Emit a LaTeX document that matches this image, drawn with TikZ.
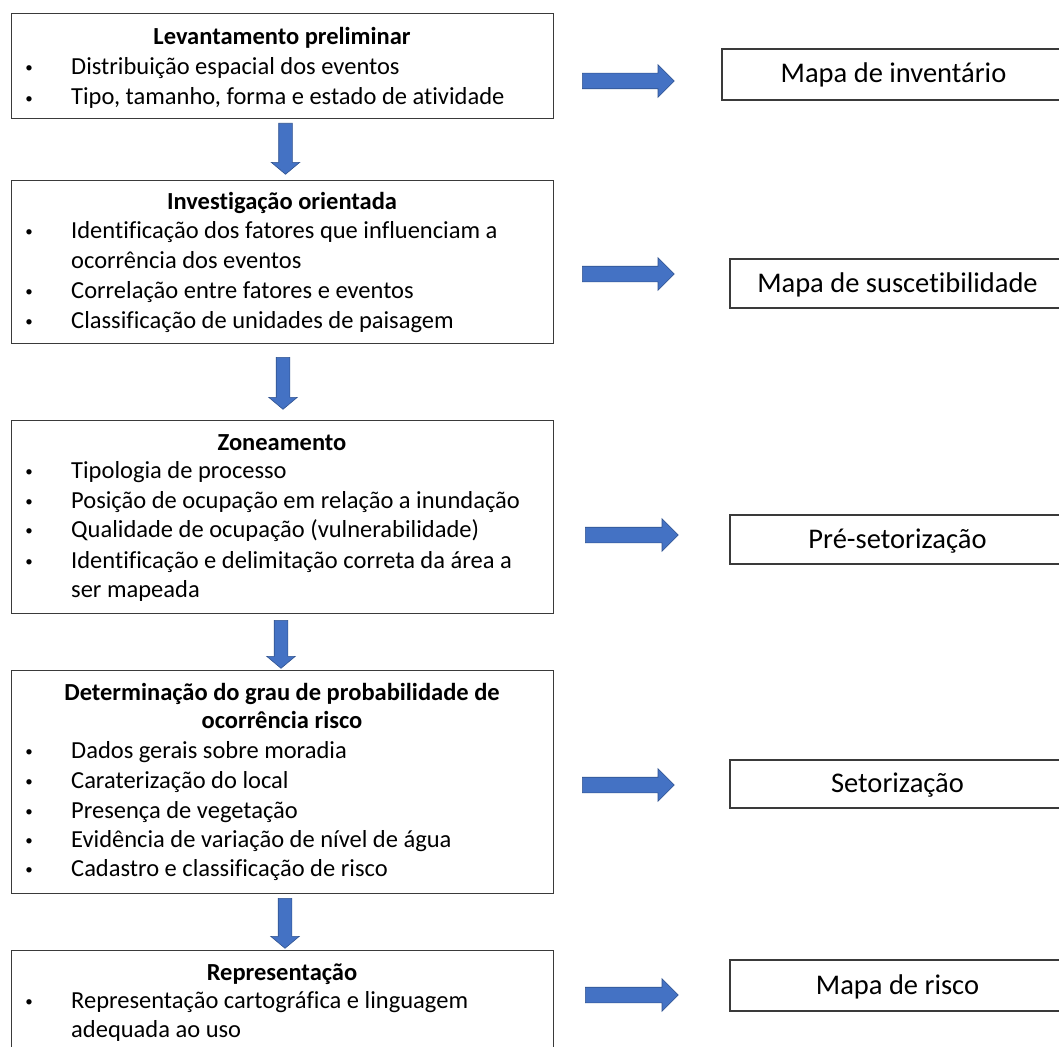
\documentclass[tikz,border=0pt]{standalone}
\usepackage{fontspec}
\setmainfont{Carlito}[Ligatures=NoCommon]
\usetikzlibrary{shapes.arrows}
\definecolor{arrfill}{HTML}{4472C4}
\definecolor{arrline}{HTML}{2F528F}
\definecolor{boxline}{HTML}{3A3A3A}
\newcommand\ttlfont{\bfseries\fontsize{24.5}{29}\selectfont}
\newcommand\itmfont{\fontsize{24.5}{29}\selectfont}
\newcommand\bulfont{\fontsize{15}{15}\selectfont}
\newcommand\outfont{\fontsize{28.5}{32}\selectfont}
\tikzset{
  stagebox/.style={draw=boxline, line width=1.3pt, anchor=north west, inner sep=0pt},
  outbox/.style={draw=boxline, line width=1.3pt, inner sep=0pt, font=\outfont, text height=19pt, text depth=2pt},
  ttl/.style={anchor=base, inner sep=0pt, font=\ttlfont},
  itm/.style={anchor=base west, inner sep=0pt, font=\itmfont},
  bul/.style={anchor=base, inner sep=0pt, font=\bulfont},
  rarrow/.style={single arrow, fill=arrfill, draw=arrline, line width=0.6pt,
    inner sep=7.5pt, minimum width=32pt, single arrow head extend=8.5pt,
    single arrow tip angle=90, minimum height=92pt, anchor=tail},
  darrow/.style={single arrow, fill=arrfill, draw=arrline, line width=0.6pt,
    inner sep=6.5pt, minimum width=28pt, single arrow head extend=7.5pt,
    single arrow tip angle=100, shape border rotate=270, anchor=tail}
}
\begin{document}
\begin{tikzpicture}[x=1pt,y=-1pt]
\path[use as bounding box, clip] (0,0) rectangle (1059,1046);
\fill[white] (0,0) rectangle (1059,1046);

% stage boxes
\node[stagebox, minimum width=542pt, minimum height=105pt] (b1) at (11,13) {};
\node[stagebox, minimum width=542pt, minimum height=163pt] (b2) at (11,180) {};
\node[stagebox, minimum width=542pt, minimum height=193pt] (b3) at (11,420) {};
\node[stagebox, minimum width=542pt, minimum height=223pt] (b4) at (11,670) {};
\node[stagebox, minimum width=542pt, minimum height=130pt] (b5) at (11,950) {};

% box 1
\node[ttl] (t1) at (282,45) {Levantamento preliminar};
\node[bul] (u1a) at (29,73) {•};
\node[itm] (i1a) at (71,75) {Distribuição espacial dos eventos};
\node[bul] (u1b) at (29,103) {•};
\node[itm] (i1b) at (71,105) {Tipo, tamanho, forma e estado de atividade};

% box 2
\node[ttl] (t2) at (282,209) {Investigação orientada};
\node[bul] (u2a) at (29,236) {•};
\node[itm] (i2a) at (71,238) {Identificação dos fatores que influenciam a};
\node[itm] (i2b) at (71,268) {ocorrência dos eventos};
\node[bul] (u2c) at (29,296) {•};
\node[itm] (i2c) at (71,298) {Correlação entre fatores e eventos};
\node[bul] (u2d) at (29,326) {•};
\node[itm] (i2d) at (71,328) {Classificação de unidades de paisagem};

% box 3
\node[ttl] (t3) at (282,450) {Zoneamento};
\node[bul] (u3a) at (29,476) {•};
\node[itm] (i3a) at (71,478) {Tipologia de processo};
\node[bul] (u3b) at (29,506) {•};
\node[itm] (i3b) at (71,508) {Posição de ocupação em relação a inundação};
\node[bul] (u3c) at (29,535) {•};
\node[itm] (i3c) at (71,537) {Qualidade de ocupação (vulnerabilidade)};
\node[bul] (u3d) at (29,566) {•};
\node[itm] (i3d) at (71,568) {Identificação e delimitação correta da área a};
\node[itm] (i3e) at (71,597) {ser mapeada};

% box 4
\node[ttl] (t4a) at (282,700) {Determinação do grau de probabilidade de};
\node[ttl] (t4b) at (282,728) {ocorrência risco};
\node[bul] (u4a) at (29,756) {•};
\node[itm] (i4a) at (71,758) {Dados gerais sobre moradia};
\node[bul] (u4b) at (29,786) {•};
\node[itm] (i4b) at (71,788) {Caraterização do local};
\node[bul] (u4c) at (29,816) {•};
\node[itm] (i4c) at (71,818) {Presença de vegetação};
\node[bul] (u4d) at (29,845) {•};
\node[itm] (i4d) at (71,847) {Evidência de variação de nível de água};
\node[bul] (u4e) at (29,874) {•};
\node[itm] (i4e) at (71,876) {Cadastro e classificação de risco};

% box 5
\node[ttl] (t5) at (282,980) {Representação};
\node[bul] (u5a) at (29,1006) {•};
\node[itm] (i5a) at (71,1008) {Representação cartográfica e linguagem};
\node[itm] (i5b) at (71,1037) {adequada ao uso};

% output boxes
\node[outbox, minimum width=343pt, minimum height=51pt] (o1) at (893.5,74.5) {Mapa de inventário};
\node[outbox, minimum width=335pt, minimum height=49pt] (o2) at (897.5,283.5) {Mapa de suscetibilidade};
\node[outbox, minimum width=335pt, minimum height=49pt] (o3) at (897.5,539.5) {Pré-setorização};
\node[outbox, minimum width=335pt, minimum height=48pt] (o4) at (897.5,784) {Setorização};
\node[outbox, minimum width=335pt, minimum height=51pt] (o5) at (897.5,985.5) {Mapa de risco};

% right arrows
\node[rarrow] (a1) at (582,81) {};
\node[rarrow] (a2) at (582,274) {};
\node[rarrow, minimum height=93pt] (a3) at (585,535) {};
\node[rarrow] (a4) at (582,785) {};
\node[rarrow, minimum height=93pt] (a5) at (585,995) {};

% down arrows
\node[darrow, minimum height=51pt] (d1) at (285.5,123) {};
\node[darrow, minimum height=52pt] (d2) at (283,357) {};
\node[darrow, minimum height=48pt] (d3) at (281,620) {};
\node[darrow, minimum height=50pt] (d4) at (285,898) {};
\end{tikzpicture}
\end{document}
